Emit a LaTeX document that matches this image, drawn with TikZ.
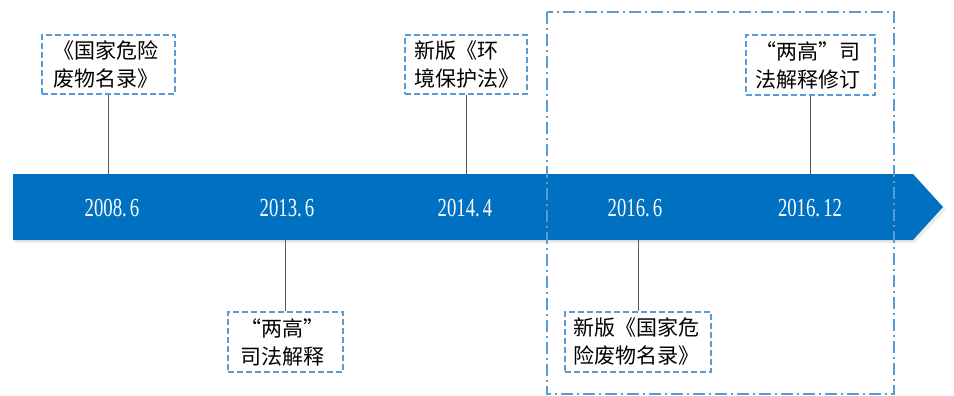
\documentclass[tikz,border=0pt]{standalone}
\usepackage{fontspec}
\setmainfont{Liberation Serif}
\newfontfamily\cjk{Noto Sans CJK SC}
\usetikzlibrary{calc}
\definecolor{arrowblue}{HTML}{0070C0}
\definecolor{boxblue}{HTML}{5B9BD5}
\definecolor{connector}{HTML}{595959}
\tikzset{
  evbox/.style={draw=boxblue, line width=1.9pt, dash pattern=on 6pt off 3pt,
    font=\cjk\fontsize{21}{28}\selectfont, align=left, inner sep=0pt,
    text width=110pt},
  datelabel/.style={text=white, font=\fontsize{26}{26}\selectfont, inner sep=0pt},
  conn/.style={draw=connector, line width=0.8pt},
  period/.style={draw=boxblue, line width=1.2pt, dash pattern=on 12pt off 4pt on 2pt off 4pt}
}
\newcommand{\dlab}[1]{\scalebox{0.72}[1]{#1}}
\begin{document}
\begin{tikzpicture}[x=1pt,y=-1pt]
\useasboundingbox (0,0) rectangle (954,396);
% shadow
\fill[gray!30, opacity=0.5] (15,177) -- (915,177) -- (946,210) -- (915,243) -- (15,243) -- cycle;
% arrow
\fill[arrowblue] (13,174) -- (913,174) -- (943,207) -- (913,240) -- (13,240) -- cycle;
\coordinate (atop) at (13,174);
\coordinate (abot) at (13,240);
% period frame
\draw[period] (547,12) rectangle (894,394);
% dates
\node[datelabel] (d1) at (112,208) {\dlab{2008.\,6}};
\node[datelabel] (d2) at (287,208) {\dlab{2013.\,6}};
\node[datelabel] (d3) at (465,208) {\dlab{2014.\,4}};
\node[datelabel] (d4) at (635,208) {\dlab{2016.\,6}};
\node[datelabel] (d5) at (810,208) {\dlab{2016.\,12}};
% boxes
\node[evbox, minimum width=133pt, minimum height=59pt] (b1) at (108.5,64.5) {《国家危险\\废物名录》};
\node[evbox, minimum width=122pt, minimum height=59pt, text width=104pt] (b2) at (466,64.5) {新版《环\\境保护法》};
\node[evbox, minimum width=129pt, minimum height=60pt] (b3) at (810.5,65) {“两高”司\\法解释修订};
\node[evbox, minimum width=115pt, minimum height=60pt, text width=90pt] (b4) at (285.5,342) {“两高”\\司法解释};
\node[evbox, minimum width=146pt, minimum height=60pt, text width=130pt] (b5) at (638,342) {新版《国家危\\险废物名录》};
% connectors
\draw[conn] (b1.south) -- (b1.south |- atop);
\draw[conn] (b2.south) -- (b2.south |- atop);
\draw[conn] (b3.south) -- (b3.south |- atop);
\draw[conn] (b4.north) -- (b4.north |- abot);
\draw[conn] (b5.north) -- (b5.north |- abot);
\end{tikzpicture}
\end{document}
